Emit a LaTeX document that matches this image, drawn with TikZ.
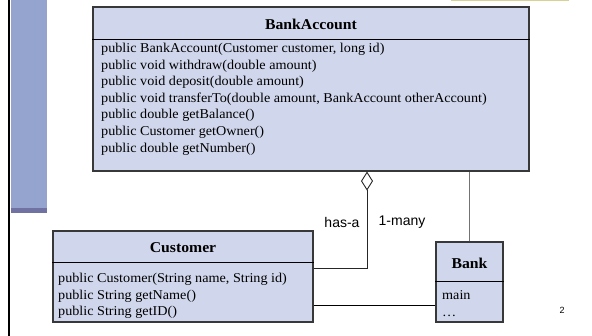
\documentclass[tikz,border=0pt]{standalone}
\usepackage{fontspec}
\setmainfont[FakeStretch=1.05]{Liberation Serif}
\newfontfamily\labelfont{Liberation Sans}
\usetikzlibrary{calc,arrows.meta}
\definecolor{boxfill}{RGB}{208,214,235}
\definecolor{bandfill}{RGB}{149,163,207}
\definecolor{bandedge}{RGB}{112,114,162}
\definecolor{topbar}{RGB}{214,210,150}
\tikzset{
	classbox/.style={draw=black!78, fill=boxfill, line width=1.1pt, inner sep=0pt},
	classtitle/.style={font=\fontsize{15}{17}\selectfont\bfseries, inner sep=0pt},
	methods/.style={font=\fontsize{13.5}{16.6}\selectfont, align=left, inner sep=0pt},
	hasline/.style={line width=0.9pt, draw=black!85},
	linkline/.style={line width=0.9pt, draw=black!55},
	rolelabel/.style={font=\labelfont\fontsize{14}{16}\selectfont, inner sep=0pt}
}

\begin{document}
\begin{tikzpicture}[x=1pt, y=-1pt]
			%%%%% START %%%%%
			\useasboundingbox (0, 0) rectangle (592, 336);
			
			% slide decoration
			\fill[bandfill] (10.5, 0) rectangle (46.5, 213);
			\fill[bandedge] (10.5, 208) rectangle (46.5, 213);
			\draw[line width=2.6pt] (9, 0) -- (9, 336);
			\draw[line width=2pt, color=topbar] (451, 0.5) -- (569, 0.5);
			
			% BankAccount
			\node[classbox, minimum width=436pt, minimum height=164pt] (account) at (311, 89) {};
			\draw[line width=1pt] (account.west |- 0, 40) -- (account.east |- 0, 40);
			\node[classtitle] (accounttitle) at (311, 24) {BankAccount};
			\node[methods, anchor=west] (accountops) at (101, 99) {public BankAccount(Customer customer, long id)\\
				public void withdraw(double amount)\\
				public void deposit(double amount)\\
				public void transferTo(double amount, BankAccount otherAccount)\\
				public double getBalance()\\
				public Customer getOwner()\\
				public double getNumber()};
			
			% Customer
			\node[classbox, minimum width=260pt, minimum height=91pt] (customer) at (183, 276.5) {};
			\draw[line width=1pt] (customer.west |- 0, 263) -- (customer.east |- 0, 263);
			\node[classtitle] (customertitle) at (183, 248) {Customer};
			\node[methods, anchor=west] (customerops) at (58, 296) {public Customer(String name, String id)\\
				public String getName()\\
				public String getID()};
			
			% Bank
			\node[classbox, minimum width=67pt, minimum height=80pt] (bank) at (469.5, 282) {};
			\draw[line width=1pt] (bank.west |- 0, 282) -- (bank.east |- 0, 282);
			\node[classtitle] (banktitle) at (469.5, 263) {Bank};
			\node[methods, anchor=west] (bankops) at (442, 303.5) {main\\
				\dots};
			
			% connectors
			\coordinate (aggcorner) at (367, 268);
			\draw[hasline, -{Diamond[open, length=19pt, width=12pt, line width=0.9pt]}]
				(customer.east |- aggcorner) -- (aggcorner) -- (aggcorner |- account.south);
			\draw[linkline] (bank.north) -- (bank.north |- account.south);
			\coordinate (assoc) at (customer.east |- 0, 305);
			\draw[line width=0.9pt] (assoc) -- (assoc -| bank.west);
			
			\node[rolelabel] (hasa) at (342, 222) {has-a};
			\node[rolelabel] (onemany) at (402, 222) {1-many};
			\node[font=\labelfont\fontsize{9}{10}\selectfont] (pagenum) at (562, 310) {2};
			
			%%%%% END %%%%%
		\end{tikzpicture}
\end{document}
